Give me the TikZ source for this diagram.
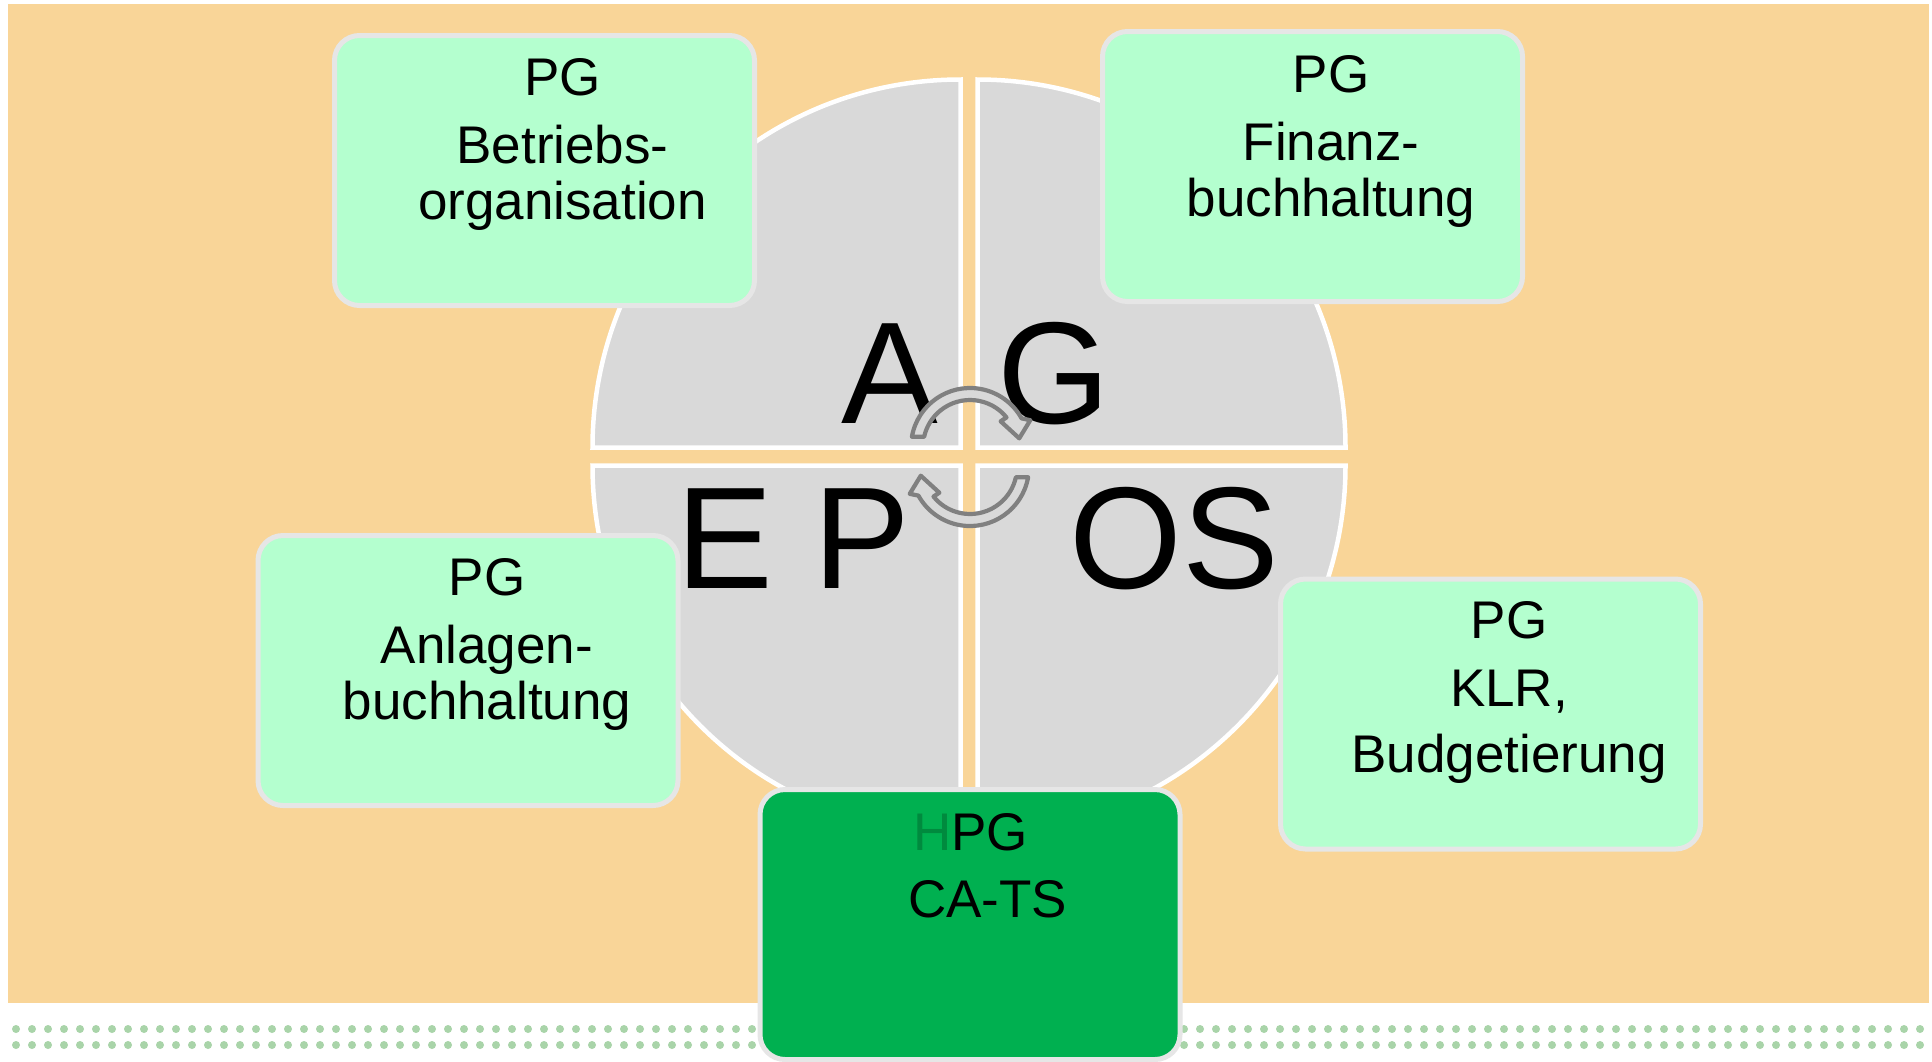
\documentclass[tikz,border=0pt]{standalone}
\usepackage{fontspec}
\setmainfont{Liberation Sans}
\definecolor{bgorange}{RGB}{249,213,152}
\definecolor{quadgray}{RGB}{217,217,217}
\definecolor{mint}{RGB}{180,255,207}
\definecolor{boxedge}{RGB}{230,230,230}
\definecolor{hpggreen}{RGB}{0,176,80}
\definecolor{ghost}{RGB}{0,138,62}
\definecolor{dotgreen}{RGB}{169,212,169}
\definecolor{arrowgray}{RGB}{128,128,128}
\begin{document}
\begin{tikzpicture}[x=1pt,y=-1pt,
  quadrant/.style={fill=quadgray, draw=white, line width=4.5pt, line join=miter},
  pgbox/.style={draw=boxedge, line width=5pt, rounded corners=25pt,
    minimum width=420pt, minimum height=270pt, inner sep=0pt, fill=mint},
  hpgbox/.style={pgbox, fill=hpggreen},
  txt/.style={font=\fontsize{53}{60}\selectfont, anchor=base, inner sep=0pt},
  bigtxt/.style={font=\fontsize{145}{150}\selectfont, anchor=base west, inner sep=0pt},
  cycarrow/.style={draw=arrowgray, line width=4.2pt, line join=round, fill=quadgray},
  dot/.style={fill=dotgreen}]
\useasboundingbox (0,0) rectangle (1932,1061);
\fill[white] (0,0) rectangle (1932,1061);

% background panel
\fill[bgorange] (8,4) rectangle (1929,1003);

% dotted footer rows
\foreach \i in {0,...,119} {
  \fill[dot] (16+16*\i,1029) circle[radius=4];
  \fill[dot] (16+16*\i,1045) circle[radius=4];
}

% four quarter discs
\begin{scope}[shift={(960.5,447.5)}, yscale=-1]
  \draw[quadrant] (0,0) -- (90:368) arc[start angle=90, end angle=180, radius=368] -- cycle;
\end{scope}
\begin{scope}[shift={(977.5,447.5)}, yscale=-1]
  \draw[quadrant] (0,0) -- (0:368) arc[start angle=0, end angle=90, radius=368] -- cycle;
\end{scope}
\begin{scope}[shift={(960.5,465.5)}, yscale=-1]
  \draw[quadrant] (0,0) -- (180:368) arc[start angle=180, end angle=270, radius=368] -- cycle;
\end{scope}
\begin{scope}[shift={(977.5,465.5)}, yscale=-1]
  \draw[quadrant] (0,0) -- (270:368) arc[start angle=270, end angle=360, radius=368] -- cycle;
\end{scope}

% quadrant letters
\node[bigtxt] (lA) at (841,423) {A};
\node[bigtxt] (lG) at (997,423) {G};
\node[bigtxt] (lEP) at (676,588) {E P};
\node[bigtxt] (lOS) at (1069,588) {OS};

% circular arrows in the middle
\begin{scope}[shift={(970,447)}, yscale=-1]
  \draw[cycarrow] (170:59) arc[start angle=170, end angle=29, radius=59]
    -- (24:66) -- (10:50) -- (40:40) -- (39:47)
    arc[start angle=39, end angle=167.5, radius=47] -- cycle;
\end{scope}
\begin{scope}[shift={(970,467)}, yscale=-1, rotate=180]
  \draw[cycarrow] (170:59) arc[start angle=170, end angle=29, radius=59]
    -- (24:66) -- (10:50) -- (40:40) -- (39:47)
    arc[start angle=39, end angle=167.5, radius=47] -- cycle;
\end{scope}

% project group boxes
\node[pgbox] (bo) at (544.5,170.5) {};
\node[txt] (bo1) at (562.5,95) {PG};
\node[txt] (bo2) at (562.5,163) {Betriebs-};
\node[txt] (bo3) at (562.5,219) {organisation};

\node[pgbox] (fb) at (1312.5,166.5) {};
\node[txt] (fb1) at (1331,92.5) {PG};
\node[txt] (fb2) at (1331,160) {Finanz-};
\node[txt] (fb3) at (1331,216.5) {buchhaltung};

\node[pgbox] (ab) at (468,670.5) {};
\node[txt] (ab1) at (487,595) {PG};
\node[txt] (ab2) at (487,663) {Anlagen-};
\node[txt] (ab3) at (487,719.5) {buchhaltung};

\node[pgbox] (klr) at (1490.5,714) {};
\node[txt] (klr1) at (1509,638) {PG};
\node[txt] (klr2) at (1509,706) {KLR,};
\node[txt] (klr3) at (1509,772) {Budgetierung};

\node[hpgbox] (ca) at (970,924.5) {};
\node[txt, anchor=base west] (ca1) at (912.8,850) {{\color{ghost}H}PG};
\node[txt] (ca2) at (987.5,917) {CA-TS};
\end{tikzpicture}
\end{document}
